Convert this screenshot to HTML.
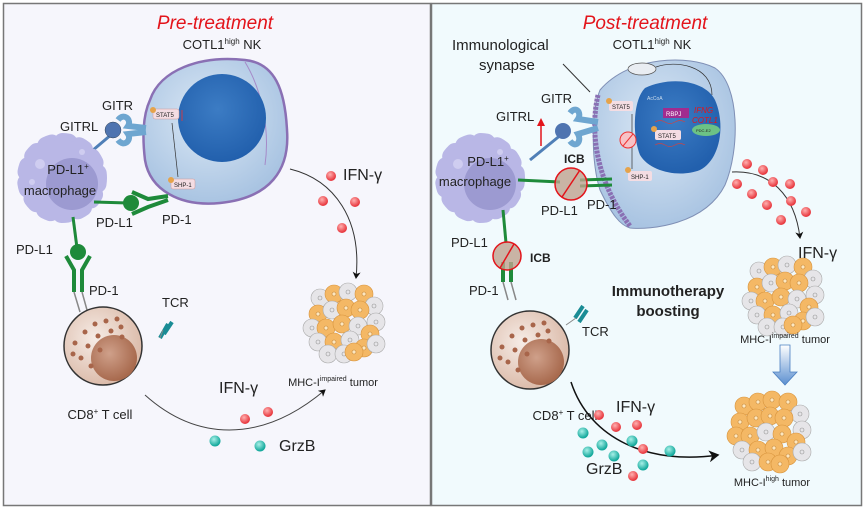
<!DOCTYPE html>
<html><head><meta charset="utf-8"><style>
html,body{margin:0;padding:0;background:#fff}
svg{display:block}
text{font-family:"Liberation Sans",Arial,sans-serif;fill:#222}
</style></head><body>
<svg width="865" height="509" viewBox="0 0 865 509" xmlns="http://www.w3.org/2000/svg">
<defs>
<radialGradient id="nk" cx="45%" cy="40%" r="60%"><stop offset="0" stop-color="#dbe8f5"/><stop offset="1" stop-color="#a9c4e2"/></radialGradient>
<radialGradient id="nuc" cx="45%" cy="40%" r="60%"><stop offset="0" stop-color="#3c7cc4"/><stop offset="1" stop-color="#2260ad"/></radialGradient>
<radialGradient id="tc" cx="40%" cy="40%" r="60%"><stop offset="0" stop-color="#f6ece6"/><stop offset="1" stop-color="#dcbcab"/></radialGradient>
<radialGradient id="tn" cx="40%" cy="40%" r="60%"><stop offset="0" stop-color="#cfa08a"/><stop offset="1" stop-color="#a86a4e"/></radialGradient>
<radialGradient id="rd" cx="40%" cy="35%" r="60%"><stop offset="0" stop-color="#ffb0b0"/><stop offset="1" stop-color="#e8383f"/></radialGradient>
<radialGradient id="tl" cx="40%" cy="35%" r="60%"><stop offset="0" stop-color="#a8f0e8"/><stop offset="1" stop-color="#14a99c"/></radialGradient>
<linearGradient id="ba" x1="0" y1="0" x2="0" y2="1"><stop offset="0" stop-color="#fff"/><stop offset="1" stop-color="#5b8fd0"/></linearGradient>
<marker id="ar" markerWidth="8" markerHeight="8" refX="6" refY="4" orient="auto"><path d="M0,0 L7,4 L0,8 L2,4 z" fill="#111"/></marker>
<g id="red"><circle r="5" fill="url(#rd)"/></g>
<g id="teal"><circle r="5.5" fill="url(#tl)"/></g>
<g id="mac">
<circle r="36" fill="none" stroke="#b9b7e6" stroke-width="18" stroke-dasharray="6 11" stroke-linecap="round"/>
<circle r="38" fill="#b9b7e6"/>
<circle cx="10" cy="6" r="26" fill="#9c9ad1"/>
<circle cx="-22" cy="-14" r="5" fill="#cfcdf0"/><circle cx="-30" cy="4" r="3" fill="#cfcdf0"/><circle cx="20" cy="-26" r="3" fill="#cfcdf0"/>
</g>
<g id="tcell">
<circle r="39" fill="url(#tc)" stroke="#333" stroke-width="1.5"/>
<circle cx="11" cy="12" r="23" fill="url(#tn)"/>
<g fill="#a8654a"><circle cx="-8" cy="-22" r="2.5"/><circle cx="3" cy="-25" r="2.5"/><circle cx="14" cy="-27" r="2.5"/><circle cx="-18" cy="-14" r="2.5"/><circle cx="-5" cy="-10" r="2.5"/><circle cx="8" cy="-15" r="2.5"/><circle cx="18" cy="-19" r="2.5"/><circle cx="-28" cy="-3" r="2.5"/><circle cx="-15" cy="0" r="2.5"/><circle cx="-3" cy="4" r="2.5"/><circle cx="-22" cy="12" r="2.5"/><circle cx="-30" cy="8" r="2.5"/><circle cx="-12" cy="20" r="2.5"/><circle cx="19" cy="-9" r="2.5"/></g>
</g>
<g id="cl"><circle r="9" fill="#e6e5e8" stroke="#aaa" stroke-width=".6"/><circle r="2" fill="none" stroke="#999" stroke-width=".6"/></g>
<g id="co"><circle r="9" fill="#f4b865" stroke="#d9953e" stroke-width=".6"/><circle r="2" fill="#fce7c0" stroke="#c98a3a" stroke-width=".6"/></g>
<g id="tum1">
<use href="#cl" x="-26" y="-24"/><use href="#co" x="-12" y="-28"/><use href="#cl" x="2" y="-30"/><use href="#co" x="18" y="-28"/><use href="#cl" x="28" y="-16"/>
<use href="#co" x="-28" y="-8"/><use href="#cl" x="-14" y="-12"/><use href="#co" x="0" y="-14"/><use href="#co" x="14" y="-12"/><use href="#cl" x="30" y="0"/>
<use href="#cl" x="-34" y="6"/><use href="#co" x="-20" y="6"/><use href="#co" x="-4" y="2"/><use href="#cl" x="12" y="4"/><use href="#co" x="24" y="12"/>
<use href="#cl" x="-28" y="20"/><use href="#co" x="-12" y="20"/><use href="#cl" x="4" y="18"/><use href="#co" x="18" y="26"/><use href="#cl" x="30" y="22"/>
<use href="#cl" x="-18" y="32"/><use href="#cl" x="-2" y="32"/><use href="#co" x="8" y="30"/>
</g>
<g id="tum2">
<use href="#co" x="-26" y="-24"/><use href="#co" x="-12" y="-28"/><use href="#co" x="2" y="-30"/><use href="#co" x="18" y="-28"/><use href="#cl" x="30" y="-16"/>
<use href="#co" x="-30" y="-8"/><use href="#co" x="-14" y="-12"/><use href="#co" x="0" y="-14"/><use href="#co" x="14" y="-12"/><use href="#cl" x="32" y="0"/>
<use href="#co" x="-34" y="6"/><use href="#co" x="-20" y="6"/><use href="#cl" x="-4" y="2"/><use href="#co" x="12" y="4"/><use href="#co" x="26" y="12"/>
<use href="#cl" x="-28" y="20"/><use href="#co" x="-12" y="20"/><use href="#co" x="4" y="18"/><use href="#co" x="18" y="26"/><use href="#cl" x="32" y="22"/>
<use href="#cl" x="-18" y="32"/><use href="#co" x="-2" y="32"/><use href="#co" x="10" y="34"/>
</g>
</defs>

<rect x="0" y="0" width="865" height="509" fill="#fff"/>
<rect x="3.5" y="3.5" width="427" height="502" fill="#f6f6fc" stroke="#777" stroke-width="1.5"/>
<rect x="431.5" y="3.5" width="430" height="502" fill="#f1fafd" stroke="#777" stroke-width="1.5"/>

<!-- LEFT -->
<text x="215" y="29" text-anchor="middle" font-size="19" font-style="italic" style="fill:#e3141b">Pre-treatment</text>
<text x="222" y="49" text-anchor="middle" font-size="13">COTL1<tspan font-size="8" dy="-5">high</tspan><tspan dy="5"> NK</tspan></text>
<path d="M150,100 C160,70 200,55 245,60 C275,63 285,90 287,130 C290,170 270,198 220,203 C180,207 150,190 145,160 C142,135 143,115 150,100 z" fill="url(#nk)" stroke="#8a70b4" stroke-width="2.5"/>
<path d="M245,62 C262,90 270,130 265,165" fill="none" stroke="#a58ac8" stroke-width="1"/>
<circle cx="222" cy="118" r="44" fill="url(#nuc)"/>
<rect x="153" y="109" width="26" height="10" rx="2" fill="#f4dde3" stroke="#c99" stroke-width=".5"/><text x="156" y="117" font-size="6">STAT5</text>
<circle cx="153" cy="110" r="3" fill="#e5a34b"/>
<rect x="171" y="179" width="24" height="10" rx="2" fill="#f4dde3" stroke="#c99" stroke-width=".5"/><text x="174" y="187" font-size="6">SHP-1</text>
<circle cx="171" cy="180" r="3" fill="#e5a34b"/>
<line x1="178" y1="177" x2="172" y2="123" stroke="#333" stroke-width=".7"/>
<line x1="182" y1="110" x2="182" y2="121" stroke="#e33" stroke-width=".8"/>
<text x="102" y="110" font-size="13">GITR</text>
<text x="60" y="131" font-size="13">GITRL</text>
<path d="M118,120 C124,112 132,120 128,126 L146,128 M118,140 C124,148 132,140 128,134 L146,132" fill="none" stroke="#6ea6d0" stroke-width="6"/>
<line x1="86" y1="156" x2="112" y2="134" stroke="#4f7fb7" stroke-width="3"/>
<circle cx="113" cy="130" r="8" fill="#4f74b0" stroke="#345" stroke-width=".5"/>
<use href="#mac" x="62" y="178"/>
<text x="68" y="174" text-anchor="middle" font-size="13">PD-L1<tspan font-size="8" dy="-5">+</tspan></text>
<text x="60" y="195" text-anchor="middle" font-size="13">macrophage</text>
<line x1="94" y1="202" x2="128" y2="203" stroke="#1e8a3a" stroke-width="3"/>
<circle cx="131" cy="203" r="8" fill="#1e8a3a"/>
<path d="M132,192 L148,199 L168,196 M132,214 L148,207 L168,200" fill="none" stroke="#1e8a3a" stroke-width="4"/>
<text x="96" y="227" font-size="13">PD-L1</text>
<text x="162" y="224" font-size="13">PD-1</text>
<line x1="73" y1="217" x2="77" y2="248" stroke="#1e8a3a" stroke-width="3"/>
<circle cx="78" cy="252" r="8" fill="#1e8a3a"/>
<path d="M66,256 L74,270 L74,292 M90,256 L82,270 L82,292" fill="none" stroke="#1e8a3a" stroke-width="4"/>
<path d="M74,292 L80,312 M82,292 L87,310" stroke="#888" stroke-width="1.5"/>
<text x="16" y="254" font-size="13">PD-L1</text>
<text x="89" y="295" font-size="13">PD-1</text>
<use href="#tcell" x="103" y="346"/>
<text x="162" y="307" font-size="13">TCR</text>
<path d="M160,338 L168,324 M164,334 L172,322" stroke="#1a8c95" stroke-width="4"/>
<path d="M163,330 L160,338" stroke="#888"/>
<text x="100" y="419" text-anchor="middle" font-size="13">CD8<tspan font-size="8" dy="-5">+</tspan><tspan dy="5"> T cell</tspan></text>
<path d="M290,169 C335,180 362,220 356,278" fill="none" stroke="#333" stroke-width="1" marker-end="url(#ar)"/>
<text x="343" y="180" font-size="16">IFN-γ</text>
<use href="#red" x="331" y="176"/><use href="#red" x="323" y="201"/><use href="#red" x="355" y="202"/><use href="#red" x="342" y="228"/>
<use href="#tum1" x="346" y="322"/>
<text x="333" y="386" text-anchor="middle" font-size="11">MHC-I<tspan font-size="7" dy="-5">impaired</tspan><tspan dy="5"> tumor</tspan></text>
<path d="M145,395 C195,440 260,445 325,390" fill="none" stroke="#444" stroke-width="1" marker-end="url(#ar)"/>
<text x="219" y="393" font-size="16">IFN-γ</text>
<use href="#red" x="245" y="419"/><use href="#red" x="268" y="412"/>
<use href="#teal" x="215" y="441"/><use href="#teal" x="260" y="446"/>
<text x="279" y="451" font-size="16">GrzB</text>

<!-- RIGHT -->
<text x="645" y="29" text-anchor="middle" font-size="19" font-style="italic" style="fill:#e3141b">Post-treatment</text>
<text x="652" y="49" text-anchor="middle" font-size="13">COTL1<tspan font-size="8" dy="-5">high</tspan><tspan dy="5"> NK</tspan></text>
<text x="452" y="50" font-size="15">Immunological</text>
<text x="479" y="70" font-size="15">synapse</text>
<line x1="563" y1="64" x2="590" y2="92" stroke="#333" stroke-width="1"/>
<path d="M600,90 C630,55 690,55 715,68 C740,85 740,150 725,185 C705,225 650,230 630,228 C620,225 612,215 600,190 C592,165 590,115 600,90 z" fill="url(#nk)" stroke="#7f8fb5" stroke-width="1"/>
<path d="M598,95 C590,130 595,180 630,226" fill="none" stroke="#8a70b4" stroke-width="5" stroke-dasharray="3 1"/>
<path d="M645,88 C670,76 705,80 715,100 C726,125 720,160 700,170 C680,178 650,172 640,155 C632,135 633,100 645,88 z" fill="url(#nuc)"/>
<ellipse cx="642" cy="69" rx="14" ry="6" fill="#e9edf2" stroke="#555" stroke-width=".7"/>
<path d="M656,67 C675,60 712,65 712,95" fill="none" stroke="#333" stroke-width=".7"/>
<text x="647" y="100" font-size="5" style="fill:#cde">AcCoA</text>
<rect x="663" y="108" width="26" height="10" fill="#a12b8f"/><text x="666" y="116" font-size="6" style="fill:#fff">RBPJ</text>
<text x="694" y="113" font-size="8" font-style="italic" style="fill:#e3141b">IFNG</text>
<text x="692" y="123" font-size="8" font-style="italic" style="fill:#e3141b">COTL1</text>
<rect x="655" y="130" width="26" height="10" rx="2" fill="#f4dde3"/><text x="658" y="138" font-size="6">STAT5</text>
<circle cx="654" cy="129" r="3" fill="#e5a34b"/>
<ellipse cx="706" cy="130" rx="14" ry="6" fill="#6cc285"/><text x="696" y="132" font-size="4">PDC-E2</text>
<path d="M655,122 q5,-3 10,0 t10,0 t10,0 M655,145 q5,-3 10,0 t10,0 t10,0" fill="none" stroke="#c44" stroke-width=".7"/>
<rect x="609" y="101" width="24" height="10" rx="2" fill="#f4dde3"/><text x="612" y="109" font-size="6">STAT5</text>
<circle cx="609" cy="101" r="3" fill="#e5a34b"/>
<rect x="628" y="171" width="24" height="10" rx="2" fill="#f4dde3"/><text x="631" y="179" font-size="6">SHP-1</text>
<circle cx="628" cy="170" r="3" fill="#e5a34b"/>
<line x1="632" y1="169" x2="632" y2="114" stroke="#333" stroke-width=".7"/>
<circle cx="628" cy="140" r="8" fill="#f7c2c6" stroke="#e33" stroke-width="1"/><line x1="623" y1="146" x2="633" y2="134" stroke="#e33"/>
<text x="496" y="121" font-size="13">GITRL</text>
<text x="541" y="103" font-size="13">GITR</text>
<line x1="541" y1="146" x2="541" y2="124" stroke="#e3141b" stroke-width="1.5"/><path d="M537,126 L541,118 L545,126 z" fill="#e3141b"/>
<path d="M570,113 C576,105 582,113 578,119 L598,122 M570,141 C576,149 582,141 578,134 L598,128" fill="none" stroke="#6ea6d0" stroke-width="6"/>
<line x1="530" y1="160" x2="562" y2="134" stroke="#4f7fb7" stroke-width="3"/>
<circle cx="563" cy="131" r="8" fill="#4f74b0"/>
<use href="#mac" x="480" y="178"/>
<text x="488" y="166" text-anchor="middle" font-size="13">PD-L1<tspan font-size="8" dy="-5">+</tspan></text>
<text x="475" y="186" text-anchor="middle" font-size="13">macrophage</text>
<line x1="518" y1="180" x2="560" y2="182" stroke="#1e8a3a" stroke-width="3"/>
<path d="M580,180 L612,179 M580,186 L612,185" stroke="#1e8a3a" stroke-width="3"/>
<circle cx="571" cy="184" r="16" fill="#bfa28f" stroke="#e3141b" stroke-width="1.5" fill-opacity=".8"/>
<line x1="562" y1="197" x2="580" y2="170" stroke="#e3141b" stroke-width="1.5"/>
<text x="564" y="163" font-size="12" font-weight="bold">ICB</text>
<text x="541" y="215" font-size="13">PD-L1</text>
<text x="587" y="209" font-size="13">PD-1</text>
<line x1="503" y1="210" x2="506" y2="243" stroke="#1e8a3a" stroke-width="3"/>
<path d="M503,262 L503,282 M511,262 L511,282" stroke="#1e8a3a" stroke-width="4"/>
<path d="M503,282 L508,300 M511,282 L516,300" stroke="#888" stroke-width="1.5"/>
<circle cx="507" cy="256" r="14" fill="#bfa28f" stroke="#e3141b" stroke-width="1.5" fill-opacity=".8"/>
<line x1="500" y1="268" x2="514" y2="244" stroke="#e3141b" stroke-width="1.5"/>
<text x="530" y="262" font-size="12" font-weight="bold">ICB</text>
<text x="451" y="247" font-size="13">PD-L1</text>
<text x="469" y="295" font-size="13">PD-1</text>
<use href="#tcell" x="530" y="350"/>
<path d="M575,318 L583,306 M579,322 L587,310" stroke="#1a8c95" stroke-width="4"/>
<path d="M566,325 L576,318" stroke="#888"/>
<text x="582" y="336" font-size="13">TCR</text>
<text x="668" y="296" text-anchor="middle" font-size="15" font-weight="bold">Immunotherapy</text>
<text x="668" y="316" text-anchor="middle" font-size="15" font-weight="bold">boosting</text>
<text x="565" y="420" text-anchor="middle" font-size="13">CD8<tspan font-size="8" dy="-5">+</tspan><tspan dy="5"> T cell</tspan></text>
<path d="M732,172 C770,170 795,195 800,238" fill="none" stroke="#333" stroke-width="1" marker-end="url(#ar)"/>
<use href="#red" x="747" y="164"/><use href="#red" x="763" y="170"/><use href="#red" x="773" y="182"/><use href="#red" x="790" y="184"/>
<use href="#red" x="737" y="184"/><use href="#red" x="752" y="194"/><use href="#red" x="767" y="205"/><use href="#red" x="791" y="201"/><use href="#red" x="806" y="212"/><use href="#red" x="781" y="220"/>
<use href="#tum1" x="785" y="295"/>
<text x="798" y="258" font-size="16">IFN-γ</text>
<text x="785" y="343" text-anchor="middle" font-size="11">MHC-I<tspan font-size="7" dy="-5">impaired</tspan><tspan dy="5"> tumor</tspan></text>
<path d="M780,345 L790,345 L790,372 L797,372 L785,385 L773,372 L780,372 z" fill="url(#ba)" stroke="#4a7fc1" stroke-width=".8"/>
<use href="#tum2" x="770" y="430"/>
<text x="772" y="486" text-anchor="middle" font-size="11">MHC-I<tspan font-size="7" dy="-5">high</tspan><tspan dy="5"> tumor</tspan></text>
<path d="M571,382 C590,440 650,465 718,455" fill="none" stroke="#111" stroke-width="1.5" marker-end="url(#ar)"/>
<text x="616" y="412" font-size="16">IFN-γ</text>
<text x="586" y="474" font-size="16">GrzB</text>
<use href="#red" x="599" y="415"/><use href="#red" x="616" y="427"/><use href="#red" x="637" y="425"/><use href="#red" x="643" y="449"/><use href="#red" x="633" y="476"/>
<use href="#teal" x="583" y="433"/><use href="#teal" x="602" y="445"/><use href="#teal" x="588" y="452"/><use href="#teal" x="614" y="456"/><use href="#teal" x="632" y="441"/><use href="#teal" x="643" y="465"/><use href="#teal" x="670" y="451"/>
</svg>
</body></html>
